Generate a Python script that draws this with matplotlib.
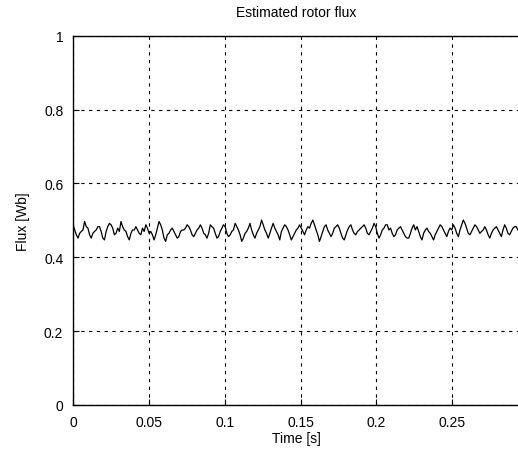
import numpy as np
import matplotlib
matplotlib.use("Agg")
import matplotlib.pyplot as plt

# estimated rotor flux [Wb] (4 segments)
flux_seg1 = [0.488, 0.474, 0.461, 0.452, 0.465, 0.470, 0.474, 0.497, 0.483, 0.479, 0.461, 0.452,
             0.465, 0.470, 0.474, 0.483, 0.483, 0.470, 0.452, 0.447, 0.470, 0.483, 0.492, 0.488,
             0.479, 0.461, 0.465, 0.479, 0.470, 0.497, 0.483, 0.474, 0.470, 0.456, 0.447, 0.465,
             0.474, 0.474, 0.483, 0.474, 0.465, 0.461, 0.479, 0.470, 0.488, 0.479, 0.465, 0.470,
             0.461, 0.447, 0.461, 0.479, 0.497, 0.488, 0.474, 0.452, 0.443, 0.461, 0.465, 0.474,
             0.479, 0.470, 0.461, 0.452, 0.456, 0.470, 0.474]
flux_seg2 = [0.474, 0.479, 0.488, 0.483, 0.474, 0.461, 0.456, 0.465, 0.474, 0.479, 0.488, 0.479,
             0.465, 0.461, 0.452, 0.465, 0.488, 0.483, 0.479, 0.465, 0.452, 0.456, 0.470, 0.479,
             0.488, 0.483, 0.465, 0.456, 0.461, 0.470, 0.474, 0.492, 0.483, 0.474, 0.461, 0.443,
             0.452, 0.465, 0.470, 0.479, 0.492, 0.474, 0.461, 0.452, 0.465, 0.474, 0.483, 0.501,
             0.488, 0.474, 0.465, 0.452, 0.465, 0.479, 0.492, 0.479, 0.470, 0.461, 0.447, 0.470,
             0.479, 0.488, 0.483, 0.474, 0.461, 0.447, 0.456, 0.465]
flux_seg3 = [0.474, 0.479, 0.488, 0.479, 0.470, 0.461, 0.474, 0.483, 0.479, 0.492, 0.501, 0.488,
             0.474, 0.461, 0.443, 0.456, 0.470, 0.483, 0.488, 0.474, 0.465, 0.456, 0.465, 0.479,
             0.483, 0.488, 0.479, 0.465, 0.452, 0.447, 0.461, 0.474, 0.483, 0.488, 0.474, 0.465,
             0.461, 0.470, 0.474, 0.479, 0.483, 0.488, 0.479, 0.465, 0.461, 0.470, 0.479, 0.492,
             0.483, 0.465, 0.452, 0.461, 0.474, 0.479, 0.488, 0.488, 0.474, 0.479, 0.465, 0.456,
             0.461, 0.474, 0.479, 0.483, 0.474, 0.465, 0.456, 0.452]
flux_seg4 = [0.452, 0.465, 0.479, 0.488, 0.474, 0.483, 0.470, 0.456, 0.447, 0.465, 0.474, 0.479,
             0.470, 0.465, 0.456, 0.447, 0.461, 0.470, 0.479, 0.488, 0.483, 0.474, 0.465, 0.456,
             0.470, 0.479, 0.474, 0.488, 0.479, 0.465, 0.456, 0.474, 0.488, 0.501, 0.492, 0.479,
             0.465, 0.461, 0.470, 0.479, 0.488, 0.483, 0.474, 0.465, 0.470, 0.474, 0.483, 0.474,
             0.461, 0.452, 0.465, 0.474, 0.479, 0.483, 0.474, 0.465, 0.456, 0.474, 0.488, 0.479,
             0.465, 0.461, 0.470, 0.479, 0.483, 0.483, 0.474, 0.470]

t_end = 0.2944
x_ticks = [0, 0.05, 0.1, 0.15, 0.2, 0.25]
x_tick_labels = ["0", "0.05", "0.1", "0.15", "0.2", "0.25"]
y_ticks = [0, 0.2, 0.4, 0.6, 0.8, 1]
y_tick_labels = ["0", "0.2", "0.4", "0.6", "0.8", "1"]

flux = np.array(flux_seg1 + flux_seg2 + flux_seg3 + flux_seg4)
time = np.linspace(0, t_end, len(flux))

plt.rcParams["font.family"] = ["Liberation Sans", "DejaVu Sans"]
plt.rcParams["font.size"] = 10

fig = plt.figure(figsize=(5.18, 4.56), dpi=100)
ax = fig.add_axes([0.141, 0.110, 0.862, 0.809])

ax.plot(time, flux, color="black", linewidth=0.9)

ax.set_xlim(0, t_end)
ax.set_ylim(0, 1)
ax.set_xticks(x_ticks)
ax.set_xticklabels(x_tick_labels)
ax.set_yticks(y_ticks)
ax.set_yticklabels(y_tick_labels)
ax.tick_params(direction="in", length=4, width=0.8, colors="black", pad=7)

ax.grid(True, color="black", linestyle=(0, (3, 4)), linewidth=0.8)
for side in ax.spines.values():
    side.set_linewidth(1.0)
    side.set_color("black")

ax.set_title("Estimated rotor flux", fontsize=10, pad=14)
ax.set_xlabel("Time [s]", labelpad=2)
ax.set_ylabel("Flux [Wb]", labelpad=10)

fig.savefig("out.png", dpi=100)
plt.close(fig)
